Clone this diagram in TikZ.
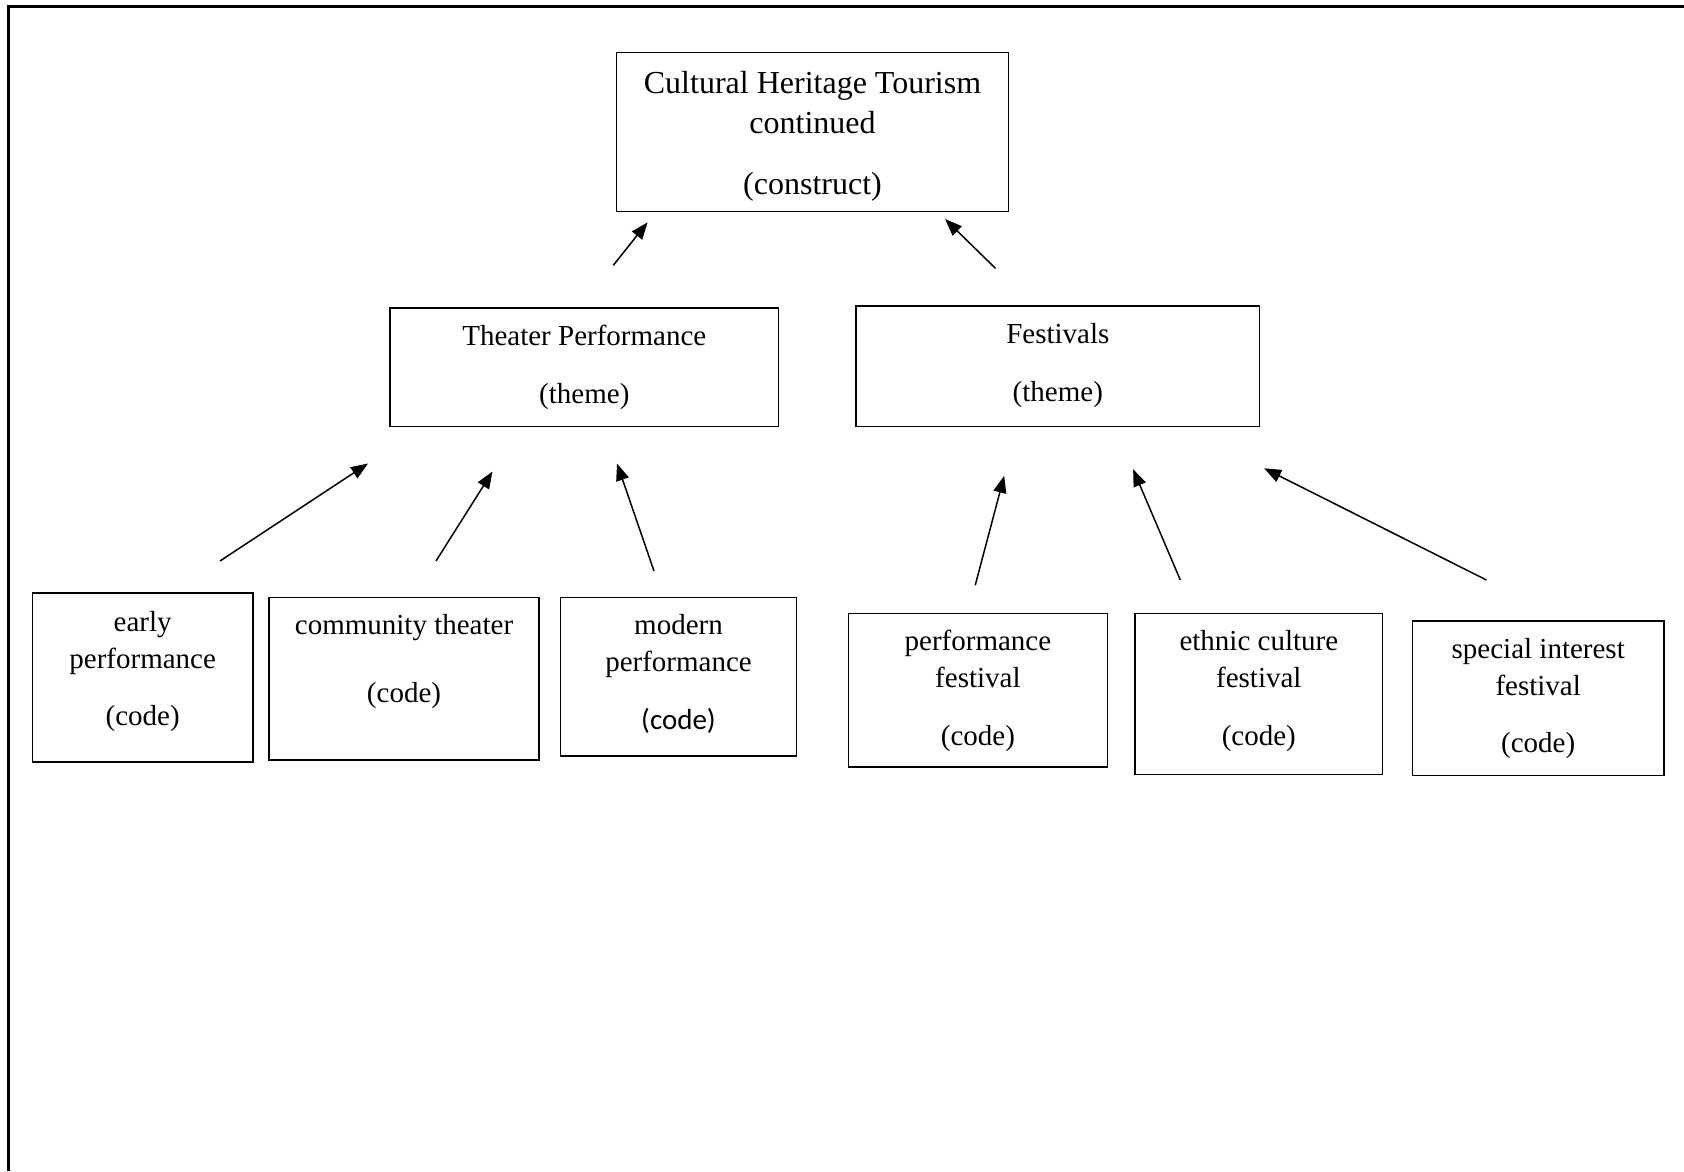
\documentclass[tikz,border=0pt]{standalone}
\usepackage{fontspec}
\setmainfont{Liberation Serif}
\newfontfamily\calfont{Carlito}
\usetikzlibrary{arrows.meta,fit}

\tikzset{
  box/.style={draw, line width=0.75pt, inner sep=0pt},
  bigtxt/.style={anchor=base, inner sep=0pt, font=\fontsize{16}{20}\selectfont},
  txt/.style={anchor=base, inner sep=0pt, font=\fontsize{14.5}{18}\selectfont},
  link/.style={line width=0.75pt, -{Triangle[length=8.5pt,width=6.5pt]}},
  frame/.style={line width=1.5pt}
}

\begin{document}
\begin{tikzpicture}[x=0.5pt,y=-0.5pt]
\useasboundingbox (0,0) rectangle (1684,1171);

% page frame (top and left edges)
\coordinate (fa) at (8,1171);
\coordinate (fb) at (8,6.5);
\coordinate (fc) at (1684,6.5);
\draw[frame] (fa) -- (fb) -- (fc);

% construct
\node[box, fit={(616.5,52.5) (1008.5,211.5)}] (construct) {};
\node[bigtxt] (constructA) at (812.5,94) {Cultural Heritage Tourism};
\node[bigtxt] (constructB) at (812.5,134) {continued};
\node[bigtxt] (constructC) at (812.5,195) {(construct)};

% themes
\node[box, fit={(390,308.2) (778.5,426.4)}] (theater) {};
\node[txt] (theaterA) at (584.3,345.5) {Theater Performance};
\node[txt] (theaterB) at (584.3,403) {(theme)};

\node[box, fit={(856,306) (1259.5,426.5)}] (festivals) {};
\node[txt] (festivalsA) at (1057.8,343.8) {Festivals};
\node[txt] (festivalsB) at (1057.8,401.5) {(theme)};

% codes
\node[box, fit={(32.3,593) (253,762)}] (early) {};
\node[txt] (earlyA) at (142.7,631.5) {early};
\node[txt] (earlyB) at (142.7,668.3) {performance};
\node[txt] (earlyC) at (142.7,725) {(code)};

\node[box, fit={(269,597.5) (539,760.2)}] (community) {};
\node[txt] (communityA) at (404,634.8) {community theater};
\node[txt] (communityB) at (404,702.5) {(code)};

\node[box, fit={(560.7,597.7) (796.3,756.1)}] (modern) {};
\node[txt] (modernA) at (678.5,634.8) {modern};
\node[txt] (modernB) at (678.5,671.5) {performance};
\node[txt, font=\fontsize{14.5}{18}\calfont] (modernC) at (678.5,729) {(code)};

\node[box, fit={(848.5,613.5) (1107.3,766.8)}] (perf) {};
\node[txt] (perfA) at (977.9,650.5) {performance};
\node[txt] (perfB) at (977.9,687) {festival};
\node[txt] (perfC) at (977.9,745) {(code)};

\node[box, fit={(1135.2,613.3) (1382.3,774.4)}] (ethnic) {};
\node[txt] (ethnicA) at (1258.8,650.5) {ethnic culture};
\node[txt] (ethnicB) at (1258.8,687) {festival};
\node[txt] (ethnicC) at (1258.8,745) {(code)};

\node[box, fit={(1412.3,620.8) (1664,775.4)}] (special) {};
\node[txt] (specialA) at (1538.2,658.8) {special interest};
\node[txt] (specialB) at (1538.2,695.4) {festival};
\node[txt] (specialC) at (1538.2,752.5) {(code)};

% arrow ends
\coordinate (t1) at (613.3,265.3);  \coordinate (h1) at (647.6,222.3);
\coordinate (t2) at (995.6,268.5);  \coordinate (h2) at (945.1,219.1);
\coordinate (t3) at (220,561);      \coordinate (h3) at (368,463.5);
\coordinate (t4) at (436,561);      \coordinate (h4) at (492.5,471.5);
\coordinate (t5) at (654,571);      \coordinate (h5) at (617,463.5);
\coordinate (t6) at (975.2,585.3);  \coordinate (h6) at (1004.2,475.8);
\coordinate (t7) at (1180.3,580);   \coordinate (h7) at (1133.1,469.3);
\coordinate (t8) at (1486.4,580);   \coordinate (h8) at (1264.1,468.3);

\foreach \i in {1,...,8} {
  \draw[link] (t\i) -- (h\i);
}
\end{tikzpicture}
\end{document}
